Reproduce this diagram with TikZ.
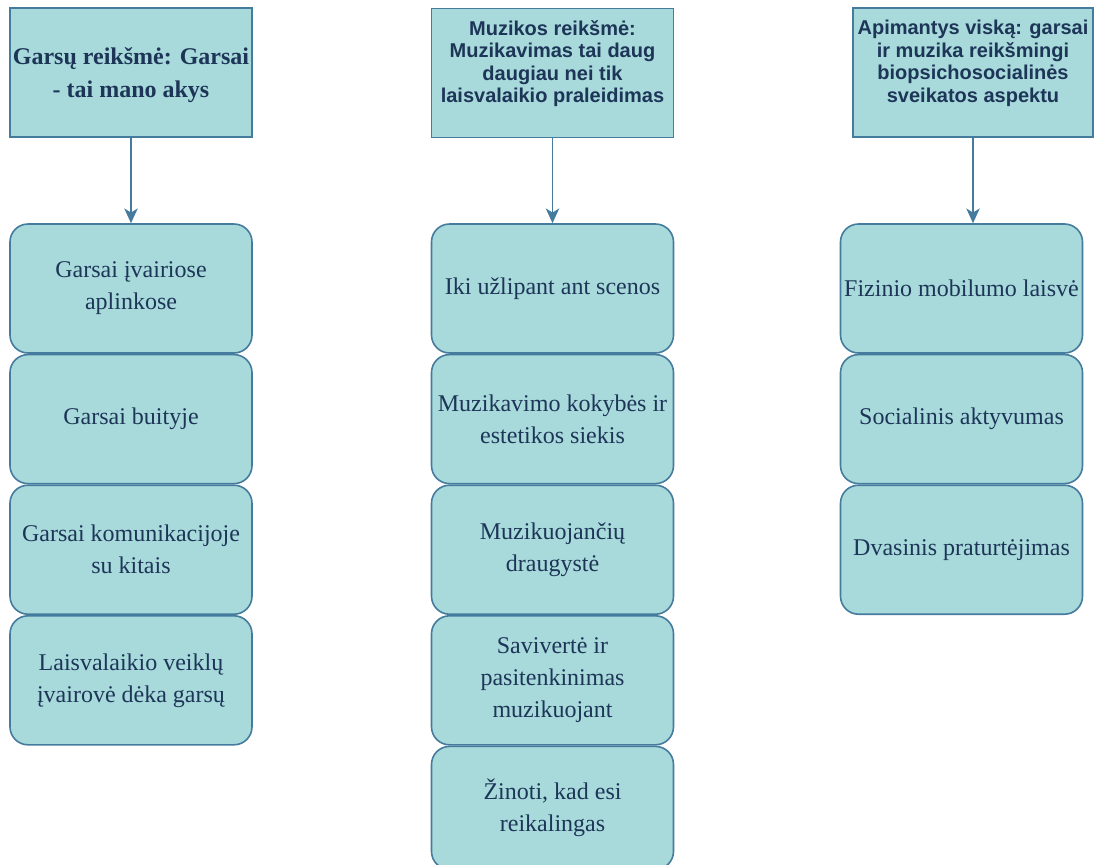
\documentclass[tikz,border=0pt]{standalone}
\usepackage{fontspec}
\setmainfont{Liberation Serif}
\setsansfont{Liberation Sans}
\usetikzlibrary{arrows.meta, positioning}
\definecolor{boxfill}{HTML}{A8DADC}
\definecolor{boxline}{HTML}{457B9D}
\definecolor{boxtext}{HTML}{1D3557}

\begin{document}
\begin{tikzpicture}[
    x=0.75pt, y=-0.75pt,
    >={Stealth[length=11pt, width=10pt, inset=3pt]},
    box/.style={draw=boxline, fill=boxfill, text=boxtext, line width=1.2pt,
                align=center, inner sep=0pt, minimum width=181.5pt},
    hdrbox/.style={box, minimum height=96.75pt, text depth=17pt,
                   font=\fontsize{15}{16.8}\selectfont\sffamily\bfseries},
    hdrserif/.style={box, minimum height=96.75pt, text depth=0pt,
                     font=\fontsize{18}{25}\selectfont\bfseries},
    itembox/.style={box, rounded corners=13.5pt, minimum height=96.75pt,
                    font=\fontsize{18}{24}\selectfont},
    arr/.style={->, draw=boxline, line width=1.4pt},
]
\useasboundingbox (0,0) rectangle (1094,864);
% ------------------------------------------------ headers
\node[hdrserif] (garsai) at (131,72.5) {Garsų reikšmė: Garsai\\- tai mano akys};
\node[hdrbox] (muzika) at (552.5,73) {Muzikos reikšmė:\\Muzikavimas tai daug\\daugiau nei tik\\laisvalaikio praleidimas};
\node[hdrbox, minimum width=180pt] (visa) at (973,72.5) {Apimantys viską: garsai\\ir muzika reikšmingi\\biopsichosocialinės\\sveikatos aspektu};
% ------------------------------------------------ first column
\node[itembox] (g1) at (131,288.5) {Garsai įvairiose\\aplinkose};
\node[itembox, below=0pt of g1] (g2) {Garsai buityje};
\node[itembox, below=0pt of g2] (g3) {Garsai komunikacijoje\\su kitais};
\node[itembox, below=0pt of g3] (g4) {Laisvalaikio veiklų\\įvairovė dėka garsų};
% ------------------------------------------------ second column
\node[itembox] (m1) at (552.5,288.5) {Iki užlipant ant scenos};
\node[itembox, below=0pt of m1] (m2) {Muzikavimo kokybės ir\\estetikos siekis};
\node[itembox, below=0pt of m2] (m3) {Muzikuojančių\\draugystė};
\node[itembox, below=0pt of m3] (m4) {Savivertė ir\\pasitenkinimas\\muzikuojant};
\node[itembox, below=0pt of m4, minimum height=92.25pt] (m5) {Žinoti, kad esi\\reikalingas};
% ------------------------------------------------ third column
\node[itembox] (v1) at (961.5,288.5) {Fizinio mobilumo laisvė};
\node[itembox, below=0pt of v1] (v2) {Socialinis aktyvumas};
\node[itembox, below=0pt of v2] (v3) {Dvasinis praturtėjimas};
% ------------------------------------------------ arrows
\draw[arr] (garsai.south) -- (g1.north);
\draw[arr] (muzika.south) -- (m1.north);
\draw[arr] (visa.south) -- (visa.south |- v1.north);
\end{tikzpicture}
\end{document}
